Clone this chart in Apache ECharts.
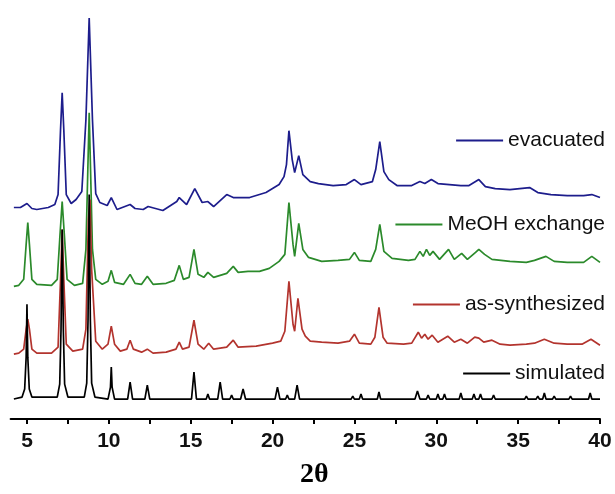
<!DOCTYPE html>
<html>
<head>
<meta charset="utf-8">
<script src="https://cdn.jsdelivr.net/npm/echarts@6/dist/echarts.min.js"></script>
<style>
  html, body { margin: 0; padding: 0; background: #fff; }
  #chart { width: 615px; height: 494px; }
</style>
</head>
<body>
<div id="chart"></div>
<script>
// 2θ positions / offset intensities (arbitrary units)
const evacuated = [
  [4.2,212],[4.6,212],[5.0,216],[5.3,211],[5.6,210],[6.3,212],[6.7,215],[6.9,225],[7.05,290],[7.15,327],
  [7.25,290],[7.4,225],[7.7,216],[8.0,220],[8.35,228],[8.6,300],[8.8,402],[9.0,300],[9.2,226],[9.45,217],
  [9.9,214],[10.15,222],[10.5,210],[11.3,215],[11.6,211],[12.1,210],[12.4,213],[13.3,209],[14.15,218],[14.3,222],
  [14.75,215],[15.25,231],[15.7,217],[16.05,218],[16.4,213],[17.2,225],[17.6,222],[18.6,222],[19.6,227],[20.4,235],
  [20.7,243],[20.85,255],[21.0,289],[21.2,260],[21.35,247],[21.6,264],[21.85,245],[22.3,238],[22.8,236],[23.7,234],
  [24.5,235],[25.0,240],[25.4,235],[26.1,238],[26.3,250],[26.55,278],[26.8,248],[27.1,240],[27.6,234],[28.5,234],
  [29.0,238],[29.3,236],[29.7,240],[30.1,236],[30.8,235],[31.5,234],[32.0,234],[32.6,240],[33.0,233],[33.6,231],
  [34.5,230],[35.7,232],[36.2,227],[37.0,225],[38.0,224],[39.0,224],[39.5,225],[40,222]
];
const meohExchange = [
  [4.2,133],[4.5,134],[4.8,140],[4.95,175],[5.05,197],[5.15,175],[5.3,140],[5.6,135],[6.5,134],[6.85,140],
  [7.0,180],[7.15,218],[7.3,180],[7.45,140],[7.9,134],[8.4,136],[8.6,170],[8.8,307],[9.0,170],[9.2,140],
  [9.6,135],[9.95,138],[10.15,149],[10.35,137],[10.9,135],[11.3,145],[11.6,136],[12.0,135],[12.35,143],[12.7,135],
  [13.5,136],[14.0,139],[14.3,154],[14.55,140],[14.9,142],[15.2,170],[15.45,145],[15.8,142],[16.05,147],[16.4,142],
  [16.8,144],[17.2,146],[17.6,153],[17.9,147],[18.5,148],[19.2,148],[19.8,151],[20.4,158],[20.75,165],[21.0,217],
  [21.25,175],[21.35,163],[21.6,196],[21.85,170],[22.2,162],[23.0,158],[24.0,159],[24.7,160],[25.0,167],[25.3,159],
  [26.0,158],[26.3,170],[26.55,195],[26.8,168],[27.3,161],[28.3,159],[28.7,160],[29.0,168],[29.2,163],[29.4,170],
  [29.6,164],[29.8,168],[30.2,160],[30.75,170],[31.1,160],[31.55,166],[31.9,160],[32.4,167],[32.6,170],[32.95,165],
  [33.4,160],[34.5,158],[35.5,157],[36.0,159],[36.7,163],[37.2,158],[38.0,157],[39.0,157],[39.5,163],[40,157]
];
const asSynthesized = [
  [4.2,65],[4.5,66],[4.8,70],[4.95,90],[5.05,100],[5.15,90],[5.3,70],[5.6,66],[6.5,66],[6.9,72],
  [7.05,140],[7.15,190],[7.25,140],[7.4,75],[7.8,68],[8.4,70],[8.6,90],[8.75,200],[8.85,220],[8.95,150],
  [9.2,78],[9.6,70],[9.95,75],[10.15,93],[10.35,75],[10.7,68],[11.1,70],[11.3,79],[11.5,70],[12.0,67],
  [12.35,70],[12.7,66],[13.5,67],[14.1,70],[14.3,77],[14.5,70],[14.9,72],[15.2,99],[15.45,75],[15.8,70],
  [16.1,76],[16.4,70],[16.8,71],[17.2,72],[17.6,79],[17.9,72],[19.0,73],[20.0,76],[20.5,78],[20.75,88],
  [21.0,138],[21.25,95],[21.35,88],[21.55,121],[21.8,90],[22.0,83],[22.3,78],[23.0,77],[24.0,76],[24.7,78],
  [25.0,85],[25.3,76],[26.0,75],[26.25,82],[26.5,112],[26.75,82],[27.0,76],[28.0,75],[28.5,76],[28.9,87],
  [29.1,81],[29.3,85],[29.5,80],[29.75,84],[30.1,77],[30.7,83],[31.1,77],[31.5,80],[31.9,76],[32.35,82],
  [32.6,81],[32.9,77],[33.4,79],[33.9,75],[34.5,74],[35.5,75],[36.0,76],[36.6,80],[37.2,76],[38.0,75],
  [38.9,75],[39.45,80],[40,74]
];
const simulated = [
  [4.2,20],[4.7,22],[4.86,30],[4.95,62],[5.0,115],[5.05,62],[5.14,30],[5.3,22],[6.85,22],[7.0,35],
  [7.08,90],[7.15,190],[7.22,90],[7.3,35],[7.5,22],[8.5,22],[8.65,36],[8.73,100],[8.8,225],[8.87,100],
  [8.95,36],[9.15,22],[9.95,20],[10.1,32],[10.15,52],[10.2,32],[10.35,20],[11.15,20],[11.3,37],[11.45,20],
  [12.2,20],[12.35,34],[12.5,20],[15.05,20],[15.2,47],[15.35,20],[15.95,20],[16.05,25],[16.15,20],[16.65,20],
  [16.8,37],[16.95,20],[17.4,20],[17.5,24],[17.6,20],[18.05,20],[18.2,30],[18.35,20],[20.15,20],[20.3,32],
  [20.45,20],[20.8,20],[20.9,24],[21.0,20],[21.35,20],[21.5,34],[21.65,20],[24.8,20],[24.9,23],[25.0,20],
  [25.3,20],[25.4,25],[25.5,20],[26.4,20],[26.5,27],[26.6,20],[28.7,20],[28.85,28],[29.0,20],[29.4,20],
  [29.5,24],[29.6,20],[30.0,20],[30.1,25],[30.2,20],[30.4,20],[30.5,25],[30.6,20],[31.4,20],[31.5,26],
  [31.6,20],[32.2,20],[32.3,25],[32.4,20],[32.6,20],[32.7,25],[32.8,20],[33.4,20],[33.5,24],[33.6,20],
  [35.4,20],[35.5,23],[35.6,20],[36.1,20],[36.2,23],[36.3,20],[36.5,20],[36.6,26],[36.7,20],[37.1,20],
  [37.2,23],[37.3,20],[38.1,20],[38.2,23],[38.3,20],[39.3,20],[39.4,26],[39.5,20],[40,20]
];

const labelTicks = [5, 10, 15, 20, 25, 30, 35, 40];
const minorTicks = [5, 7.5, 10, 12.5, 15, 17.5, 20, 22.5, 25, 27.5, 30, 32.5, 35, 37.5, 40];

const names = ['evacuated', 'MeOH exchange', 'as-synthesized', 'simulated'];
const colors = ['#1d1d8c', '#2b8a2b', '#b3342e', '#000000'];
const datasets = [evacuated, meohExchange, asSynthesized, simulated];
const legendTops = [130, 214, 294, 363];

const chart = echarts.init(document.getElementById('chart'));

const option = {
  animation: false,
  backgroundColor: '#fff',
  grid: { left: 10.6, right: 15, top: 0, bottom: 74 },
  legend: names.map((n, i) => ({
    data: [n],
    right: 10,
    top: legendTops[i],
    padding: 0,
    icon: 'rect',
    itemWidth: 47,
    itemHeight: 2,
    selectedMode: false,
    textStyle: { fontSize: 21, fontFamily: 'Liberation Sans, Arial', color: '#111' }
  })),
  xAxis: {
    type: 'value',
    min: 4,
    max: 40,
    name: '2θ',
    nameLocation: 'middle',
    nameGap: 42,
    nameTextStyle: { fontFamily: 'Liberation Serif, Times New Roman', fontWeight: 'bold', fontSize: 28, color: '#000', padding: [0, 0, 0, 18] },
    axisLine: { lineStyle: { color: '#000', width: 2 } },
    axisTick: { customValues: minorTicks, length: 5, lineStyle: { color: '#000', width: 2 } },
    axisLabel: { customValues: labelTicks, fontSize: 21, fontWeight: 'bold', fontFamily: 'Liberation Sans, Arial', color: '#111', margin: 12 },
    splitLine: { show: false }
  },
  yAxis: { type: 'value', min: 0, max: 420, show: false },
  series: names.map((n, i) => ({
    name: n,
    type: 'line',
    data: datasets[i],
    showSymbol: false,
    symbol: 'none',
    lineStyle: { color: colors[i], width: 1.7 },
    itemStyle: { color: colors[i] }
  }))
};

chart.setOption(option);
</script>
</body>
</html>
